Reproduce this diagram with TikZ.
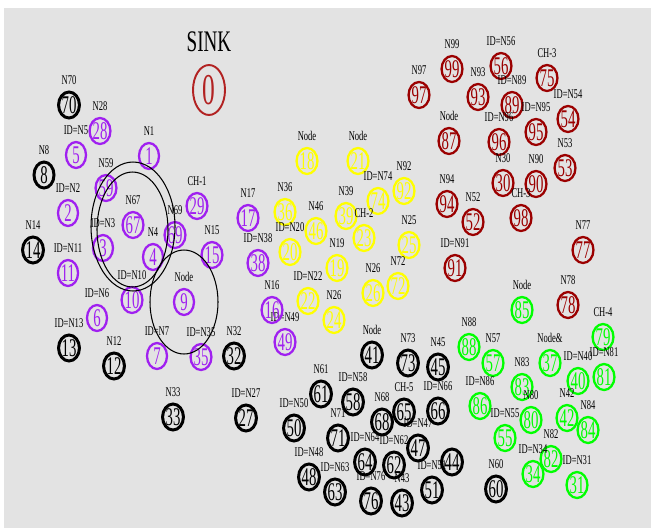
\documentclass[tikz,border=0pt]{standalone}
\usepackage{fontspec}
\setmainfont{Liberation Serif}
\newfontfamily\condfont[FakeStretch=0.64]{Liberation Serif}
\newfontfamily\numfont[FakeStretch=0.58]{Liberation Serif}
\usetikzlibrary{shapes.geometric}
\definecolor{field}{HTML}{E3E3E3}
\definecolor{clpurple}{HTML}{A020F0}
\definecolor{clyellow}{HTML}{FFFF00}
\definecolor{clred}{HTML}{9B0000}
\definecolor{clgreen}{HTML}{00FF00}
\definecolor{sinkred}{HTML}{B22222}
\begin{document}
\begin{tikzpicture}[x=0.02cm,y=-0.02cm,
  every label/.style={font=\condfont\fontsize{7.6}{8}\selectfont,inner sep=0pt,text=black,yshift=3.4pt},
  sensor/.style={ellipse,draw,line width=1.3pt,minimum width=0.4cm,minimum height=0.52cm,inner sep=0pt,
    font=\numfont\fontsize{14.5}{14.5}\selectfont},
  ch1/.style={sensor,draw=clpurple,text=clpurple},
  ch2/.style={sensor,draw=clyellow,text=clyellow},
  ch3/.style={sensor,draw=clred,text=clred},
  ch4/.style={sensor,draw=clgreen,text=clgreen},
  ch5/.style={sensor,line width=1.7pt,draw=black,text=black},
  sink/.style={ellipse,draw=sinkred,text=sinkred,line width=1.1pt,minimum width=0.64cm,minimum height=1cm,
    inner sep=0pt,font=\numfont\fontsize{25}{25}\selectfont},
  radioring/.style={draw=black,line width=0.6pt}]
\useasboundingbox (0,0) rectangle (651,528);
\fill[field] (4,8) rectangle (651,528);
\node[font=\condfont\fontsize{17}{17}\selectfont] (sinktitle) at (209,42) {SINK};
\node[sink] (sink) at (209,90) {0};
% CH-1
\node[ch5,label=above:N70] (n70) at (69,105) {70};
\node[ch1,label=above:N28] (n28) at (100,131) {28};
\node[ch1,label={above:ID=N5}] (n5) at (76,155) {5};
\node[ch5,label=above:N8] (n8) at (44,175) {8};
\node[ch1,label=above:N1] (n1) at (149,156) {1};
\node[ch1,label=above:N59] (n59) at (106,188) {59};
\node[ch1,label={above:ID=N2}] (n2) at (68,213) {2};
\node[ch1,label=above:CH-1] (n29) at (197,206) {29};
\node[ch1,label=above:N67] (n67) at (133,225) {67};
\node[ch1,label=above:N69] (n69) at (175,235) {69};
\node[ch1,label={above:ID=N3}] (n3) at (103,248) {3};
\node[ch1,label=above:N4] (n4) at (153,257) {4};
\node[ch5,label=above:N14] (n14) at (33,250) {14};
\node[ch1,label={above:ID=N11}] (n11) at (68,273) {11};
\node[ch1,label=above:N15] (n15) at (212,255) {15};
\node[ch1,label={above:ID=N10}] (n10) at (132,300) {10};
\node[ch1,label=above:Node] (n9) at (184,302) {9};
\node[ch1,label={above:ID=N6}] (n6) at (97,318) {6};
\node[ch5,label={above:ID=N13}] (n13) at (69,348) {13};
\node[ch5,label=above:N12] (n12) at (114,366) {12};
\node[ch1,label={above:ID=N7}] (n7) at (157,356) {7};
\node[ch1,label={above:ID=N35}] (n35) at (201,357) {35};
\node[ch5,label=above:N32] (n32) at (234,356) {32};
\node[ch5,label=above:N33] (n33) at (173,417) {33};
\node[ch5,label={above:ID=N27}] (n27) at (246,418) {27};
\node[ch1,label=above:N17] (n17) at (248,218) {17};
\node[ch1,label={above:ID=N38}] (n38) at (258,263) {38};
\node[ch1,label={above:ID=N49}] (n49) at (285,342) {49};
\node[ch1,label=above:N16] (n16) at (272,310) {16};
\draw[radioring] (133,226.5) ellipse [x radius=0.84cm,y radius=1.29cm];
\draw[radioring] (132.5,229.5) ellipse [x radius=0.71cm,y radius=1.15cm];
\draw[radioring] (184,302) ellipse [x radius=0.68cm,y radius=1.04cm];
% CH-2
\node[ch2,label=above:Node] (n18) at (307,161) {18};
\node[ch2,label=above:Node] (n21) at (358,161) {21};
\node[ch2,label=above:N92] (n92) at (404,191) {92};
\node[ch2,label={above:ID=N74}] (n74) at (378,201) {74};
\node[ch2,label=above:N36] (n36) at (285,212) {36};
\node[ch2,label=above:N46] (n46) at (316,231) {46};
\node[ch2,label=above:N39] (n39) at (346,216) {39};
\node[ch2,label=above:CH-2] (n23) at (364,238) {23};
\node[ch2,label=above:N25] (n25) at (409,245) {25};
\node[ch2,label={above:ID=N20}] (n20) at (290,252) {20};
\node[ch2,label=above:N19] (n19) at (337,268) {19};
\node[ch2,label=above:N72] (n72) at (398,286) {72};
\node[ch2,label=above:N26] (n26) at (373,293) {26};
\node[ch2,label={above:ID=N22}] (n22) at (308,301) {22};
\node[ch2,label=above:N26] (n24) at (334,320) {24};
% CH-3
\node[ch3,label=above:N99] (n99) at (452,69) {99};
\node[ch3,label={above:ID=N56}] (n56) at (501,66) {56};
\node[ch3,label=above:CH-3] (n75) at (547,78) {75};
\node[ch3,label=above:N97] (n97) at (419,95) {97};
\node[ch3,label=above:N93] (n93) at (478,97) {93};
\node[ch3,label={above:ID=N89}] (n89) at (512,105) {89};
\node[ch3,label={above:ID=N54}] (n54) at (568,119) {54};
\node[ch3,label={above:ID=N95}] (n95) at (536,132) {95};
\node[ch3,label=above:Node] (n87) at (449,141) {87};
\node[ch3,label={above:ID=N96}] (n96) at (499,142) {96};
\node[ch3,label=above:N53] (n53) at (565,168) {53};
\node[ch3,label=above:N30] (n30) at (503,183) {30};
\node[ch3,label=above:N90] (n90) at (536,184) {90};
\node[ch3,label=above:N94] (n94) at (447,204) {94};
\node[ch3,label=above:N52] (n52) at (473,222) {52};
\node[ch3,label=above:CH-3] (n98) at (521,218) {98};
\node[ch3,label=above:N77] (n77) at (583,250) {77};
\node[ch3,label={above:ID=N91}] (n91) at (455,268) {91};
\node[ch3,label=above:N78] (n78) at (568,305) {78};
% CH-4
\node[ch4,label=above:Node] (n85) at (522,310) {85};
\node[ch4,label=above:CH-4] (n79) at (603,337) {79};
\node[ch4,label=above:N88] (n88) at (469,347) {88};
\node[ch4,label=above:N57] (n57) at (493,363) {57};
\node[ch4,label=above:Node\&] (n37) at (550,363) {37};
\node[ch4,label={above:ID=N81}] (n81) at (604,377) {81};
\node[ch4,label={above:ID=N40}] (n40) at (578,381) {40};
\node[ch4,label=above:N83] (n83) at (522,387) {83};
\node[ch4,label={above:ID=N86}] (n86) at (480,406) {86};
\node[ch4,label=above:N80] (n80) at (531,420) {80};
\node[ch4,label=above:N42] (n42) at (567,418) {42};
\node[ch4,label=above:N84] (n84) at (588,430) {84};
\node[ch4,label={above:ID=N55}] (n55) at (505,438) {55};
\node[ch4,label=above:N82] (n82) at (551,459) {82};
\node[ch4,label={above:ID=N34}] (n34) at (533,474) {34};
\node[ch4,label={above:ID=N31}] (n31) at (577,485) {31};
% CH-5
\node[ch5,label=above:Node] (n41) at (372,355) {41};
\node[ch5,label=above:N73] (n73) at (408,363) {73};
\node[ch5,label=above:N45] (n45) at (438,367) {45};
\node[ch5,label=above:N61] (n61) at (321,394) {61};
\node[ch5,label={above:ID=N58}] (n58) at (353,402) {58};
\node[ch5,label=above:CH-5] (n65) at (404,412) {65};
\node[ch5,label={above:ID=N66}] (n66) at (438,411) {66};
\node[ch5,label={above:ID=N50}] (n50) at (294,428) {50};
\node[ch5,label=above:N68] (n68) at (382,422) {68};
\node[ch5,label=above:N71] (n71) at (338,438) {71};
\node[ch5,label={above:ID=N47}] (n47) at (418,448) {47};
\node[ch5,label={above:ID=N64}] (n64) at (365,462) {64};
\node[ch5,label={above:ID=N62}] (n62) at (394,465) {62};
\node[ch5,label={above:ID=N48}] (n48) at (309,477) {48};
\node[ch5,label={above:ID=N63}] (n63) at (335,492) {63};
\node[ch5,label={above:ID=N51}] (n51) at (432,490) {51};
\node[ch5] (n44) at (452,462) {44};
\node[ch5,label={above:ID=N76}] (n76) at (371,501) {76};
\node[ch5,label=above:N43] (n43) at (402,503) {43};
\node[ch5,label=above:N60] (n60) at (496,489) {60};
\end{tikzpicture}
\end{document}
